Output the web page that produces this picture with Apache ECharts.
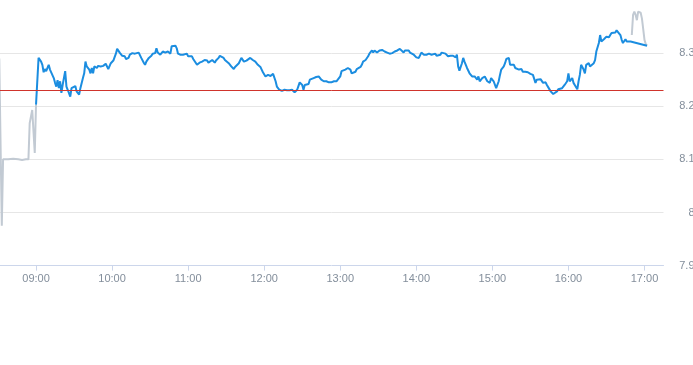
<!DOCTYPE html>
<html><head><meta charset="utf-8">
<script src="https://cdn.jsdelivr.net/npm/echarts@6/dist/echarts.min.js"></script>
<style>html,body{margin:0;padding:0;background:#fff}#c{width:693px;height:365px}</style>
</head><body><div id="c"></div>
<script>
const hourLabels = ['09:00','10:00','11:00','12:00','13:00','14:00','15:00','16:00','17:00'];
const axisStart = '08:30';
const axisEnd = '17:15';
const yMin = 7.9, yMax = 8.4, yStep = 0.1;
const prevClose = 8.232;

const preMarket = [['08:31',8.290],['08:33',7.975],['08:34',8.100],['08:38',8.100],['08:42',8.101],['08:46',8.100],['08:49',8.099],['08:52',8.100],['08:54',8.100],['08:55',8.168],['08:56',8.168],['08:57',8.193],['08:58',8.196],['08:59',8.112],['09:00',8.203]];

const continuous = [
['09:00',8.203],['09:02',8.291],['09:04',8.284],['09:05',8.278],['09:06',8.264],['09:07',8.270],['09:08',8.266],['09:10',8.278],['09:11',8.269],['09:12',8.272],['09:14',8.253],['09:15',8.244],['09:16',8.237],['09:17',8.249],['09:18',8.234],['09:19',8.247],['09:20',8.225],['09:21',8.240],['09:23',8.266],['09:24',8.237],['09:25',8.231],['09:27',8.218],['09:28',8.234],['09:29',8.231],['09:31',8.238],['09:32',8.228],['09:34',8.222],['09:35',8.234],['09:37',8.253],['09:38',8.262],['09:39',8.284],['09:40',8.275],['09:42',8.269],['09:43',8.262],['09:44',8.272],['09:45',8.262],['09:46',8.275],['09:48',8.272],['09:49',8.276],['09:51',8.275],['09:53',8.276],['09:55',8.280],['09:57',8.270],['09:59',8.281],
['10:01',8.286],['10:03',8.299],['10:04',8.308],['10:06',8.301],['10:07',8.303],['10:08',8.295],['10:10',8.294],['10:11',8.289],['10:13',8.291],['10:14',8.297],['10:16',8.300],['10:18',8.299],['10:19',8.299],['10:21',8.301],['10:22',8.300],['10:23',8.291],['10:25',8.282],['10:26',8.278],['10:27',8.284],['10:29',8.291],['10:30',8.294],['10:31',8.295],['10:32',8.299],['10:34',8.300],['10:35',8.309],['10:36',8.301],['10:38',8.297],['10:39',8.300],['10:40',8.303],['10:42',8.301],['10:43',8.300],['10:44',8.303],['10:46',8.299],['10:47',8.313],['10:48',8.314],['10:50',8.314],['10:51',8.309],['10:52',8.299],['10:54',8.297],['10:55',8.295],['10:56',8.297],['10:57',8.294],['10:59',8.299],
['11:00',8.294],['11:01',8.292],['11:03',8.294],['11:04',8.289],['11:05',8.287],['11:07',8.278],['11:08',8.281],['11:09',8.282],['11:11',8.284],['11:12',8.281],['11:13',8.287],['11:15',8.286],['11:16',8.282],['11:17',8.284],['11:19',8.287],['11:20',8.284],['11:21',8.282],['11:22',8.286],['11:24',8.291],['11:25',8.295],['11:26',8.295],['11:28',8.291],['11:29',8.287],['11:30',8.284],['11:32',8.281],['11:33',8.278],['11:34',8.275],['11:36',8.270],['11:37',8.274],['11:38',8.276],['11:40',8.281],['11:41',8.284],['11:42',8.291],['11:44',8.284],['11:45',8.281],['11:46',8.286],['11:47',8.287],['11:49',8.291],['11:50',8.289],['11:51',8.287],['11:53',8.284],['11:54',8.281],['11:55',8.278],['11:57',8.274],['11:58',8.269],['11:59',8.264],
['12:01',8.256],['12:02',8.257],['12:03',8.259],['12:05',8.257],['12:06',8.260],['12:07',8.261],['12:08',8.259],['12:09',8.247],['12:10',8.237],['12:11',8.234],['12:12',8.231],['12:14',8.229],['12:15',8.230],['12:16',8.231],['12:18',8.230],['12:19',8.231],['12:20',8.230],['12:22',8.231],['12:23',8.228],['12:24',8.226],['12:26',8.231],['12:27',8.238],['12:28',8.245],['12:30',8.240],['12:31',8.231],['12:32',8.240],['12:33',8.240],['12:35',8.242],['12:36',8.250],['12:37',8.251],['12:39',8.253],['12:40',8.254],['12:41',8.255],['12:43',8.256],['12:44',8.257],['12:45',8.250],['12:47',8.247],['12:48',8.249],['12:49',8.247],['12:51',8.245],['12:52',8.247],['12:53',8.245],['12:55',8.247],['12:56',8.249],['12:57',8.247],['12:58',8.250],
['13:00',8.256],['13:01',8.266],['13:02',8.267],['13:04',8.269],['13:05',8.269],['13:06',8.272],['13:08',8.269],['13:09',8.262],['13:10',8.264],['13:12',8.265],['13:13',8.270],['13:14',8.272],['13:16',8.274],['13:17',8.278],['13:18',8.284],['13:20',8.287],['13:21',8.289],['13:22',8.294],['13:23',8.299],['13:25',8.305],['13:26',8.301],['13:27',8.305],['13:29',8.301],['13:30',8.303],['13:31',8.305],['13:33',8.306],['13:34',8.305],['13:35',8.303],['13:37',8.301],['13:38',8.299],['13:39',8.299],['13:41',8.300],['13:42',8.301],['13:43',8.303],['13:45',8.305],['13:46',8.306],['13:47',8.308],['13:48',8.305],['13:50',8.301],['13:51',8.305],['13:52',8.306],['13:54',8.305],['13:55',8.301],['13:56',8.299],['13:58',8.297],['13:59',8.295],
['14:00',8.292],['14:02',8.291],['14:03',8.294],['14:04',8.301],['14:06',8.297],['14:07',8.300],['14:08',8.297],['14:10',8.299],['14:11',8.300],['14:12',8.297],['14:13',8.300],['14:15',8.299],['14:16',8.295],['14:17',8.292],['14:19',8.297],['14:20',8.301],['14:21',8.303],['14:23',8.299],['14:24',8.300],['14:25',8.294],['14:27',8.295],['14:28',8.294],['14:29',8.295],['14:31',8.292],['14:32',8.297],['14:33',8.275],['14:34',8.267],['14:36',8.281],['14:37',8.291],['14:38',8.284],['14:40',8.272],['14:41',8.269],['14:42',8.262],['14:44',8.256],['14:45',8.253],['14:46',8.256],['14:48',8.250],['14:49',8.256],['14:50',8.247],['14:52',8.253],['14:53',8.250],['14:54',8.256],['14:56',8.247],['14:57',8.250],['14:58',8.244],['14:59',8.253],
['15:01',8.247],['15:02',8.244],['15:03',8.234],['15:05',8.247],['15:06',8.259],['15:07',8.269],['15:09',8.275],['15:10',8.281],['15:11',8.289],['15:13',8.291],['15:14',8.278],['15:15',8.275],['15:17',8.278],['15:18',8.272],['15:19',8.274],['15:21',8.269],['15:22',8.272],['15:23',8.270],['15:24',8.265],['15:26',8.265],['15:27',8.262],['15:28',8.264],['15:30',8.261],['15:31',8.262],['15:32',8.259],['15:34',8.244],['15:35',8.250],['15:36',8.253],['15:38',8.251],['15:39',8.253],['15:40',8.244],['15:42',8.245],['15:43',8.240],['15:44',8.236],['15:46',8.228],['15:47',8.225],['15:48',8.223],['15:49',8.225],['15:51',8.228],['15:52',8.232],['15:53',8.231],['15:55',8.234],['15:56',8.231],['15:57',8.240],['15:59',8.247],
['16:00',8.262],['16:01',8.247],['16:03',8.253],['16:04',8.244],['16:05',8.240],['16:07',8.232],['16:08',8.247],['16:09',8.259],['16:10',8.278],['16:12',8.269],['16:13',8.262],['16:14',8.278],['16:16',8.281],['16:17',8.275],['16:18',8.272],['16:20',8.281],['16:21',8.287],['16:22',8.303],['16:24',8.319],['16:25',8.334],['16:26',8.322],['16:28',8.326],['16:29',8.328],['16:30',8.331],['16:32',8.330],['16:33',8.334],['16:34',8.338],['16:35',8.341],['16:37',8.339],['16:38',8.343],['16:39',8.345],['16:41',8.334],['16:42',8.325],['16:43',8.319],['16:45',8.326],['16:46',8.322],['16:47',8.324],['16:49',8.322],['16:50',8.322],
['17:02',8.314]
];

const closingAuction = [['16:50',8.334],['16:51',8.372],['16:52',8.378],['16:53',8.372],['16:54',8.362],['16:55',8.378],['16:56',8.378],['16:57',8.376],['16:58',8.365],['16:59',8.345],['17:00',8.325],['17:01',8.317],['17:02',8.314]];

function toMin(t){const p=t.split(':');return (+p[0])*60+(+p[1]);}
function fmtMin(v){const h=Math.floor(v/60),m=Math.round(v-h*60);return (h<10?'0':'')+h+':'+(m<10?'0':'')+m;}
const pts = a => a.map(d => [toMin(d[0]), d[1]]);

const FONT = 'Liberation Sans';
const LABEL = '#838e9b';
const tickVals = hourLabels.map(toMin);

const chart = echarts.init(document.getElementById('c'), null, {renderer:'canvas'});
chart.setOption({
  animation:false,
  grid:{left:-2,right:29.5,top:0,bottom:99.4,containLabel:false,outerBoundsMode:'none'},
  xAxis:{
    type:'value', min:toMin(axisStart), max:toMin(axisEnd),
    axisLine:{show:true,lineStyle:{color:'#ccd6eb',width:1}},
    axisTick:{show:true,length:5,lineStyle:{color:'#ccd6eb'},customValues:tickVals},
    axisLabel:{customValues:tickVals,formatter:fmtMin,color:LABEL,fontSize:11,fontFamily:FONT,margin:8},
    splitLine:{show:false}
  },
  yAxis:{
    type:'value', position:'right', min:yMin, max:yMax, interval:yStep, scale:true,
    axisLine:{show:false}, axisTick:{show:false},
    axisLabel:{align:'right',margin:31,color:LABEL,fontSize:11,fontFamily:FONT,showMaxLabel:false},
    splitLine:{show:true,showMaxLine:false,showMinLine:false,lineStyle:{color:'#e6e6e6',width:1}}
  },
  series:[
    {type:'line',data:pts(preMarket),showSymbol:false,symbol:'none',lineStyle:{color:'#c2cad3',width:2},itemStyle:{color:'#c2cad3'},z:2},
    {type:'line',data:pts(closingAuction),showSymbol:false,symbol:'none',lineStyle:{color:'#c2cad3',width:2},itemStyle:{color:'#c2cad3'},z:2},
    {type:'line',data:pts(continuous),showSymbol:false,symbol:'none',lineStyle:{color:'#1b8de0',width:2},itemStyle:{color:'#1b8de0'},z:3,
      markLine:{silent:true,symbol:['none','none'],label:{show:false},lineStyle:{color:'#d0342c',width:1,type:'solid'},data:[{yAxis:prevClose}]}}
  ]
});
</script>
</body></html>
